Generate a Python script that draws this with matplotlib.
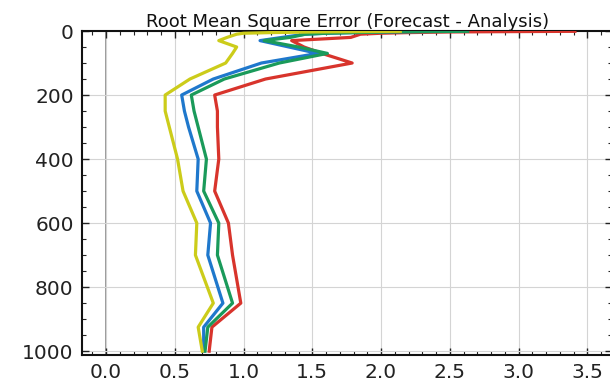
import matplotlib
matplotlib.use("Agg")
import matplotlib.pyplot as plt
from matplotlib.ticker import MultipleLocator

levels = [1, 2, 3, 5, 7, 10, 20, 30, 50, 70, 100, 150, 200, 250, 300,
          400, 500, 600, 700, 850, 925, 1000]

rmse_red = [3.41, 2.9, 2.5, 2.2, 2.0, 1.85, 1.78, 1.35, 1.44, 1.57, 1.79, 1.16,
            0.79, 0.81, 0.81, 0.82, 0.79, 0.89, 0.92, 0.98, 0.77, 0.75]
rmse_blue = [2.45, 2.2, 2.0, 1.8, 1.6, 1.45, 1.28, 1.12, 1.33, 1.54, 1.13, 0.78,
             0.55, 0.57, 0.60, 0.67, 0.66, 0.76, 0.74, 0.85, 0.71, 0.71]
rmse_green = [2.63, 2.3, 2.05, 1.8, 1.6, 1.45, 1.34, 1.15, 1.40, 1.61, 1.26, 0.86,
              0.62, 0.64, 0.67, 0.73, 0.71, 0.82, 0.81, 0.92, 0.74, 0.72]
rmse_yellow = [2.14, 1.8, 1.5, 1.2, 1.0, 0.95, 0.88, 0.82, 0.95, 0.92, 0.87, 0.61,
               0.43, 0.43, 0.46, 0.52, 0.56, 0.66, 0.65, 0.78, 0.67, 0.70]

title = "Root Mean Square Error (Forecast - Analysis)"

fig = plt.figure(figsize=(6.1, 3.84), dpi=100)
ax = fig.add_axes([82/610, 1-355/384, (612-82)/610, 324/384])

ax.grid(True, which="major", color="#d4d4d4", linewidth=0.8, zorder=0)
ax.axvline(0, color="#999999", linewidth=1.4, zorder=1)

ax.plot(rmse_red, levels, color="#d8342c", linewidth=2.3, zorder=3)
ax.plot(rmse_blue, levels, color="#1f78cc", linewidth=2.3, zorder=4)
ax.plot(rmse_green, levels, color="#1a9a5a", linewidth=2.3, zorder=5)
ax.plot(rmse_yellow, levels, color="#cccc1a", linewidth=2.3, zorder=6)

ax.set_xlim(-0.175, 3.68)
ax.set_ylim(1012, 0)
ax.xaxis.set_major_locator(MultipleLocator(0.5))
ax.xaxis.set_minor_locator(MultipleLocator(0.1))
ax.yaxis.set_major_locator(MultipleLocator(200))
ax.yaxis.set_minor_locator(MultipleLocator(50))
ax.tick_params(which="both", direction="in", top=True, right=True,
               colors="#222222", labelcolor="#222222")
ax.tick_params(which="major", length=5, width=1, labelsize=14.5, pad=6)
ax.tick_params(which="minor", length=3, width=0.8)
for s in ax.spines.values():
    s.set_linewidth(1.5)
    s.set_color("#111111")

ax.set_title(title, fontsize=13, pad=3, color="#111111",
             x=(348 - 82) / (612 - 82))

fig.savefig("out.png", dpi=100)
